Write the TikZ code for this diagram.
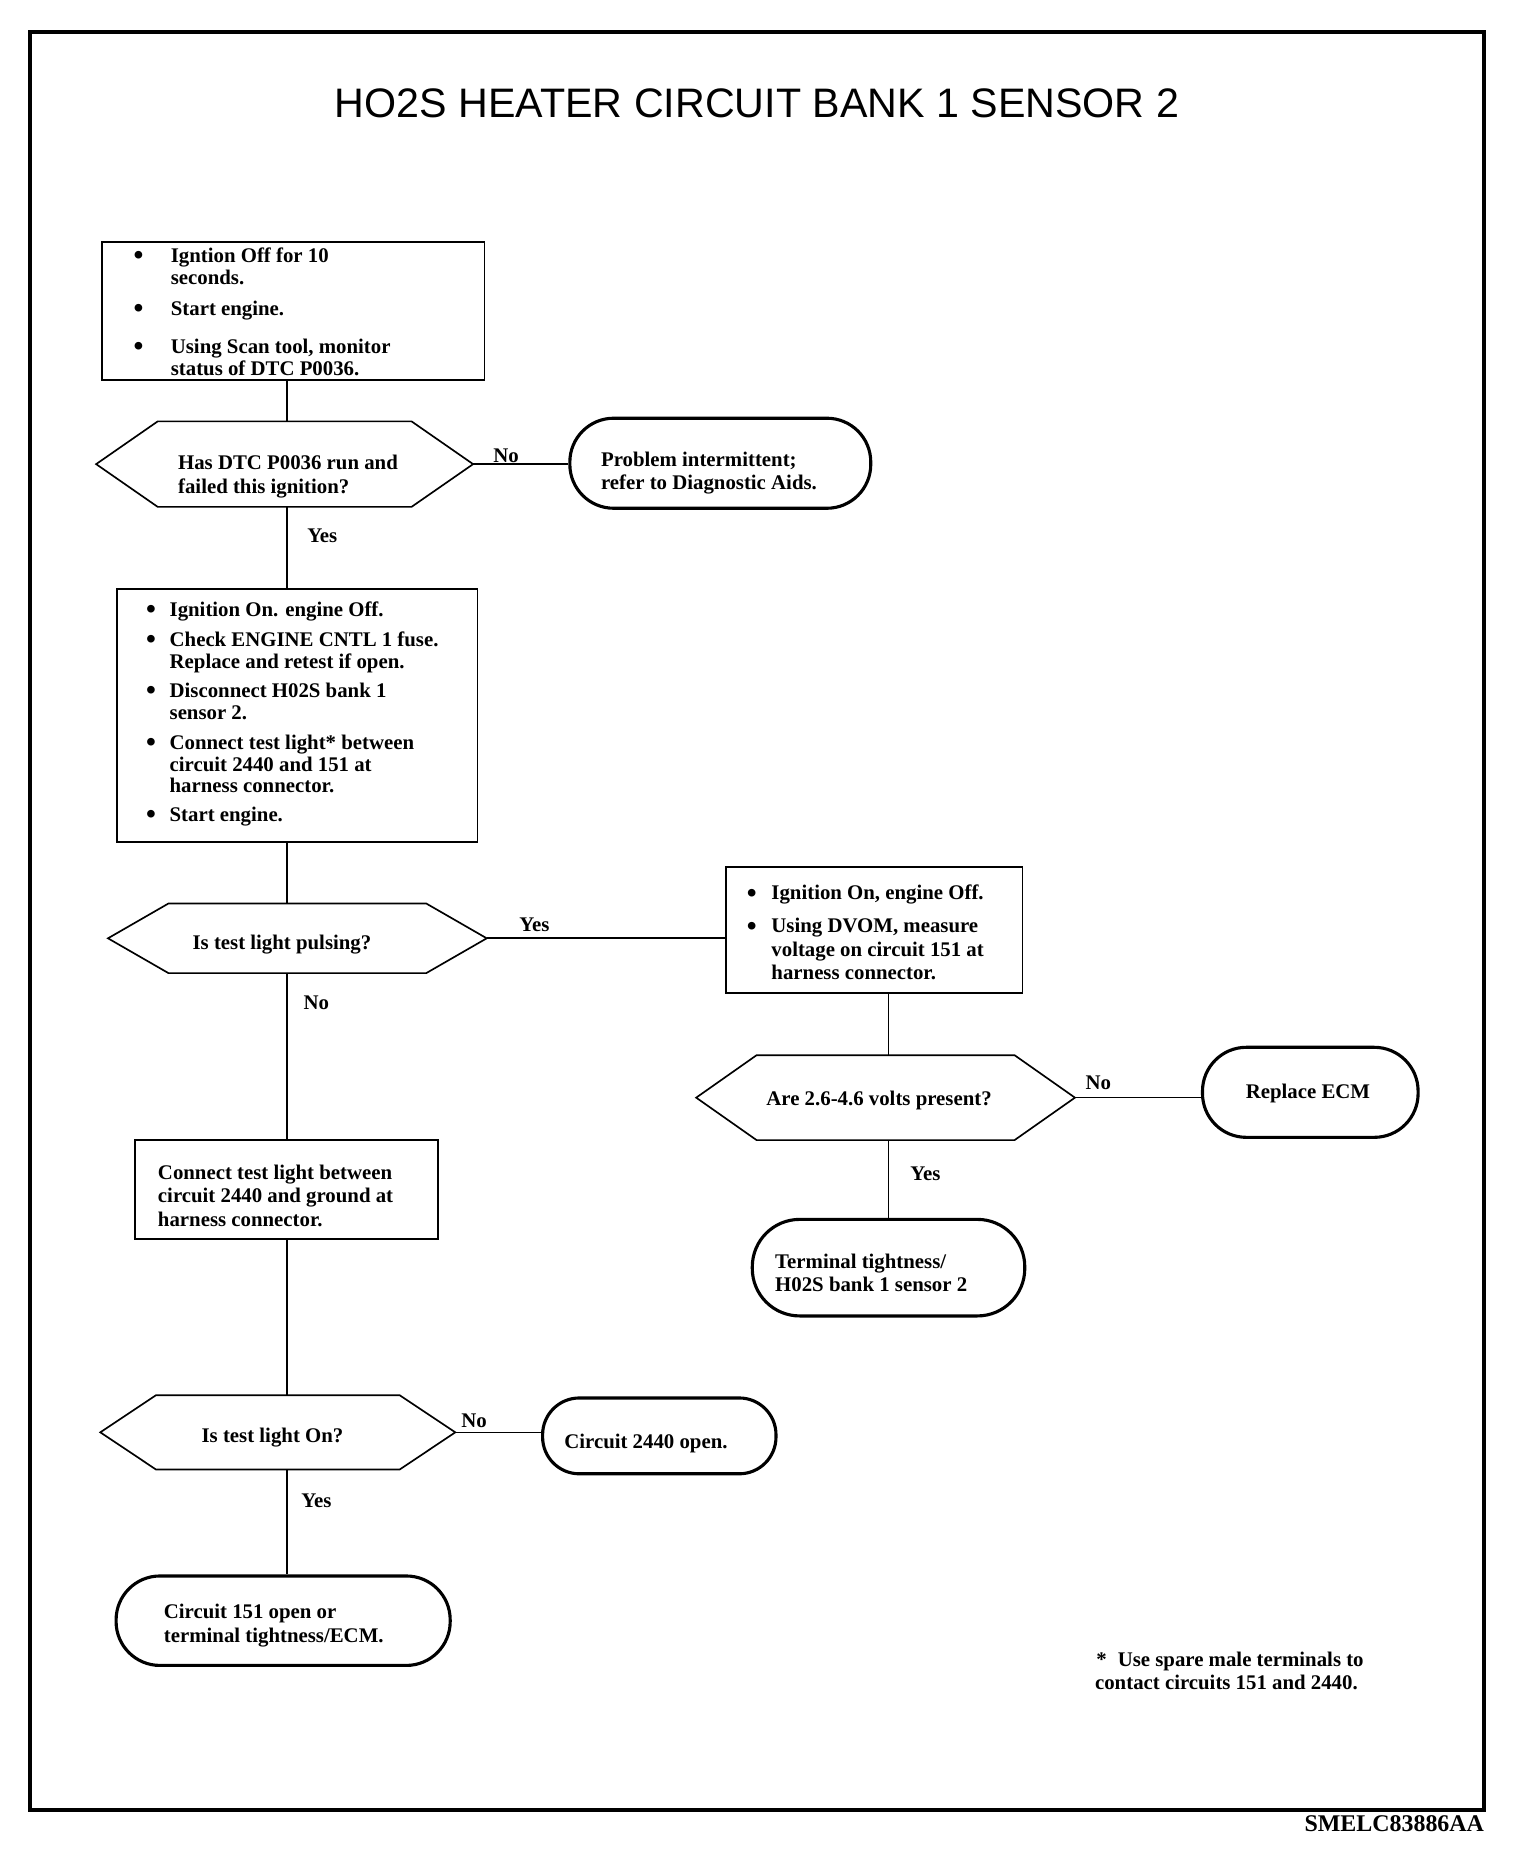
\documentclass[tikz,border=0pt]{standalone}
\usepackage{fontspec}
\setmainfont{Liberation Serif}
\newfontfamily\titlefont{Liberation Sans}
\usepackage{array}
\newcommand{\hexpath}[2]{%
  \draw[hexl] (#1.west) -- ([xshift=#2*0.02cm]#1.north west) -- ([xshift=-#2*0.02cm]#1.north east) -- (#1.east) -- ([xshift=-#2*0.02cm]#1.south east) -- ([xshift=#2*0.02cm]#1.south west) -- cycle;}
\newcommand{\bigbul}{\raisebox{-1.1pt}{\scalebox{1.35}{\textbullet}}}
\begin{document}
\begin{tikzpicture}[x=0.02cm,y=-0.02cm,
  box/.style={draw, line width=0.85pt, inner sep=0pt},
  hexn/.style={inner sep=0pt, draw=none},
  hexl/.style={line width=0.8pt, line join=miter},
  term/.style={draw, line width=1.5pt, inner sep=0pt},
  conn/.style={line width=0.8pt},
  txt/.style={inner sep=0pt, yshift=-0.05cm, font=\fontsize{10}{10.8}\selectfont\bfseries},
  lbl/.style={txt, anchor=base west},
  tl/.style={txt, anchor=base west},
  tc/.style={txt, anchor=base},
]
\useasboundingbox (0,0) rectangle (1296,1570);
\draw[line width=1.9pt] (25,27) rectangle (1253,1528);

\node[inner sep=0pt, anchor=base, font=\titlefont\fontsize{19.8}{23}\selectfont] (title) at (639,99.5) {HO2S HEATER CIRCUIT BANK 1 SENSOR 2};

\coordinate (sp) at (242,0);
\coordinate (sp2) at (750,0);

% box 1
\node[box, minimum width=323*0.02cm, minimum height=116.5*0.02cm] (b1) at (247.5,262.25) {};
\node[tl] (b1t) at (112.5,219) {\begin{tabular}[t]{@{}p{17.85pt}@{}l@{}}
\bigbul & Igntion Off for 10\\
 & seconds.\\[3.9pt]
\bigbul & Start engine.\\[7.3pt]
\bigbul & Using Scan tool, monitor\\
 & status of DTC P0036.
\end{tabular}};

% decision 1
\node[hexn, minimum width=317.5*0.02cm, minimum height=71.5*0.02cm] (d1) at (240.25,391.75) {};
\hexpath{d1}{52}
\node[tl] (d1t) at (150,394) {\begin{tabular}[t]{@{}l@{}}Has DTC P0036 run and\\[0.5pt] failed this ignition?\end{tabular}};
\node[lbl] (no1) at (416,388) {No};
\node[term, rounded corners=0.74cm, minimum width=254*0.02cm, minimum height=76*0.02cm] (t1) at (608,391) {};
\node[tl] (t1t) at (507,391) {\begin{tabular}[t]{@{}l@{}}Problem intermittent;\\[0.3pt] refer to Diagnostic Aids.\end{tabular}};
\node[lbl] (yes1) at (259,455) {Yes};

% box 2
\node[box, minimum width=304*0.02cm, minimum height=214*0.02cm] (b2) at (251,604) {};
\node[tl] (b2t) at (123,518) {\begin{tabular}[t]{@{}p{11.3pt}@{}l@{}}
\bigbul & Ignition On. engine Off.\\[3.4pt]
\bigbul & Check ENGINE CNTL 1 fuse.\\
 & Replace and retest if open.\\[2.8pt]
\bigbul & Disconnect H02S bank 1\\
 & sensor 2.\\[3.4pt]
\bigbul & Connect test light* between\\
 & circuit 2440 and 151 at\\[-0.6pt]
 & harness connector.\\[2.8pt]
\bigbul & Start engine.
\end{tabular}};

% decision 2
\node[hexn, minimum width=319*0.02cm, minimum height=58*0.02cm] (d2) at (251,792) {};
\hexpath{d2}{51}
\node[tc] (d2t) at (238,799) {Is test light pulsing?};
\node[lbl] (yes2) at (438,784) {Yes};
\node[lbl] (no2) at (256,850) {No};

% box 3
\node[box, minimum width=250*0.02cm, minimum height=106*0.02cm] (b3) at (738,785) {};
\node[tl] (b3t) at (630,757) {\begin{tabular}[t]{@{}p{11.85pt}@{}l@{}}
\bigbul & Ignition On, engine Off.\\[5.1pt]
\bigbul & Using DVOM, measure\\[0.5pt]
 & voltage on circuit 151 at\\[0.5pt]
 & harness connector.
\end{tabular}};

% decision 3
\node[hexn, minimum width=319*0.02cm, minimum height=71*0.02cm] (d3) at (747.5,926.5) {};
\hexpath{d3}{51}
\node[tc] (d3t) at (742,931) {Are 2.6-4.6 volts present?};
\node[lbl] (no3) at (916,917) {No};
\node[term, rounded corners=0.74cm, minimum width=182*0.02cm, minimum height=76*0.02cm] (t2) at (1106,922) {};
\node[tc] (t2t) at (1104,925) {Replace ECM};
\node[lbl] (yes3) at (768,994) {Yes};
\node[term, rounded corners=0.8cm, minimum width=230*0.02cm, minimum height=81.5*0.02cm] (t3) at (750,1070) {};
\node[tl] (t3t) at (654,1068) {\begin{tabular}[t]{@{}l@{}}Terminal tightness/\\[0.5pt] H02S bank 1 sensor 2\end{tabular}};

% box 4
\node[box, minimum width=256*0.02cm, minimum height=84*0.02cm] (b4) at (242,1004) {};
\node[tl] (b4t) at (133,993) {\begin{tabular}[t]{@{}l@{}}Connect test light between\\[0.5pt] circuit 2440 and ground at\\[0.5pt] harness connector.\end{tabular}};

% decision 4
\node[hexn, minimum width=299*0.02cm, minimum height=62*0.02cm] (d4) at (234.5,1209) {};
\hexpath{d4}{47}
\node[tc] (d4t) at (230,1215) {Is test light On?};
\node[lbl] (no4) at (389,1202) {No};
\node[term, rounded corners=0.62cm, minimum width=197*0.02cm, minimum height=64*0.02cm] (t4) at (556.5,1212) {};
\node[tl] (t4t) at (476,1220) {Circuit 2440 open.};
\node[lbl] (yes4) at (254,1270) {Yes};
\node[term, rounded corners=0.74cm, minimum width=282*0.02cm, minimum height=75.5*0.02cm] (t5) at (239,1368) {};
\node[tl] (t5t) at (138,1364) {\begin{tabular}[t]{@{}l@{}}Circuit 151 open or\\[0.5pt] terminal tightness/ECM.\end{tabular}};

% footnote
\node[tl] (fn) at (924,1404) {\begin{tabular}[t]{@{}l@{}}\hspace{0.6pt}*\hspace{5.3pt}Use spare male terminals to\\[0.5pt] contact circuits 151 and 2440.\end{tabular}};
\node[inner sep=0pt, anchor=base east, font=\fontsize{11.5}{12}\selectfont\bfseries] (code) at (1253,1546) {SMELC83886AA};

% connectors
\draw[conn] (b1.south -| sp) -- (d1.north -| sp);
\draw[conn] (d1.east) -- (d1.east -| t1.west);
\draw[conn] (d1.south -| sp) -- (b2.north -| sp);
\draw[conn] (b2.south -| sp) -- (d2.north -| sp);
\draw[conn] (d2.east) -- (d2.east -| b3.west);
\draw[conn] (b3.south -| sp2) -- (d3.north -| sp2);
\draw[conn] (d3.east) -- (d3.east -| t2.west);
\draw[conn] (d3.south -| sp2) -- (t3.north -| sp2);
\draw[conn] (d2.south -| sp) -- (b4.north -| sp);
\draw[conn] (b4.south -| sp) -- (d4.north -| sp);
\draw[conn] (d4.east) -- (d4.east -| t4.west);
\draw[conn] (d4.south -| sp) -- (t5.north -| sp);
\end{tikzpicture}
\end{document}
